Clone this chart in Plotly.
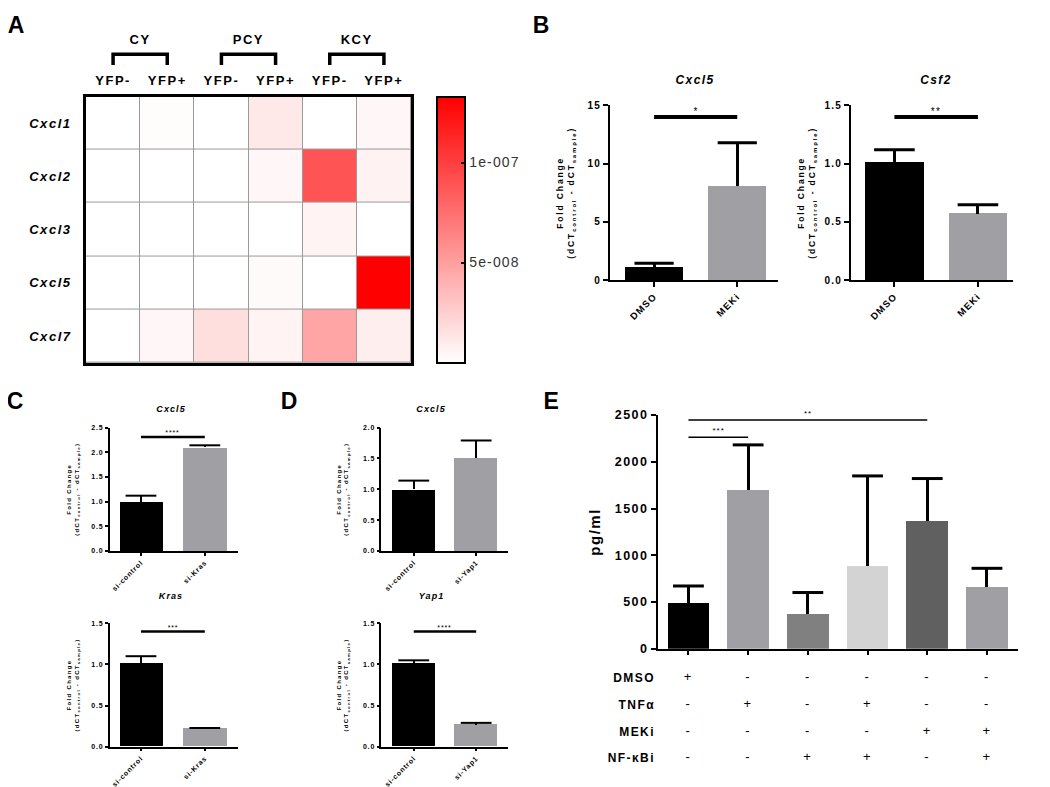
import plotly.graph_objects as go

W, H = 1050, 787
def fx(p): return p / W
def fy(p): return 1 - p / H

FONT = "Arial, 'Liberation Sans', sans-serif"
BLACK = "#000000"
GRAY = "#a0a0a4"

# ---------------- Panel A data ----------------
genes = ["Cxcl1", "Cxcl2", "Cxcl3", "Cxcl5", "Cxcl7"]
col_labels = ["YFP-", "YFP+", "YFP-", "YFP+", "YFP-", "YFP+"]
group_labels = ["CY", "PCY", "KCY"]
heat_cxcl1 = [0.0, 1.5e-9, 0.0, 1.2e-8, 0.0, 4.0e-9]
heat_cxcl2 = [0.0, 0.0, 0.0, 4.0e-9, 8.9e-8, 7.0e-9]
heat_cxcl3 = [0.0, 0.0, 0.0, 0.0, 6.0e-9, 0.0]
heat_cxcl5 = [0.0, 0.0, 0.0, 2.5e-9, 0.0, 1.33e-7]
heat_cxcl7 = [0.0, 4.0e-9, 1.7e-8, 6.5e-9, 4.7e-8, 9.0e-9]
heat_max = 1.33e-7
cbar_tickvals = [5e-8, 1e-7]
cbar_ticktext = ["5e-008", "1e-007"]

# ---------------- Panel B data ----------------
b_labels = ["DMSO", "MEKi"]
b_cxcl5_mean = [1.12, 8.05]
b_cxcl5_sem = [0.34, 3.75]
b_cxcl5_sig = 14.0
b_csf2_mean = [1.01, 0.57]
b_csf2_sem = [0.11, 0.077]
b_csf2_sig = 1.40

# ---------------- Panel C data ----------------
c_labels = ["si-control", "si-Kras"]
c_cxcl5_mean = [1.00, 2.10]
c_cxcl5_sem = [0.12, 0.04]
c_cxcl5_sig = 2.31
c_kras_mean = [1.01, 0.22]
c_kras_sem = [0.09, 0.008]
c_kras_sig = 1.40

# ---------------- Panel D data ----------------
d_labels = ["si-control", "si-Yap1"]
d_cxcl5_mean = [1.00, 1.51]
d_cxcl5_sem = [0.14, 0.28]
d_yap1_mean = [1.01, 0.27]
d_yap1_sem = [0.04, 0.02]
d_yap1_sig = 1.40

# ---------------- Panel E data ----------------
e_mean = [490, 1695, 371, 889, 1362, 665]
e_sem = [182, 486, 231, 960, 459, 196]
e_colors = ["#000000", "#a0a0a4", "#808080", "#d3d3d3", "#606060", "#a0a0a4"]
e_sig_low = 2262
e_sig_high = 2447
treat_labels = ["DMSO", "TNFα", "MEKi", "NF-κBi"]
treat_dmso = ["+", "-", "-", "-", "-", "-"]
treat_tnfa = ["-", "+", "-", "+", "-", "-"]
treat_meki = ["-", "-", "-", "-", "+", "+"]
treat_nfkbi = ["-", "-", "+", "+", "-", "+"]

fig = go.Figure()
layout = dict(
    width=W, height=H, margin=dict(l=0, r=0, t=0, b=0),
    paper_bgcolor="white", plot_bgcolor="white",
    font=dict(family=FONT, color="black"), showlegend=False,
)
shapes, annos = [], []

def bold(size, italic=False, color="black"):
    d = dict(family=FONT, size=size, color=color, weight="bold")
    if italic:
        d["style"] = "italic"
    return d

# ---------------- Panel A ----------------
CB_TOP, CB_BOT, CB_LEFT = 83, 354, 429
heat_z = [heat_cxcl1, heat_cxcl2, heat_cxcl3, heat_cxcl5, heat_cxcl7]
fig.add_trace(go.Heatmap(
    z=heat_z, x=list(range(len(col_labels))), y=list(range(len(genes))),
    colorscale=[[0, "#ffffff"], [1, "#ff0000"]], zmin=0, zmax=heat_max,
    xgap=1, ygap=1, hoverinfo="skip",
    colorbar=dict(x=fx(CB_LEFT), xanchor="left", y=fy(CB_TOP), yanchor="top",
                  len=(CB_BOT - CB_TOP) / H, lenmode="fraction", thickness=28,
                  outlinewidth=2, outlinecolor="black", xpad=0, ypad=0,
                  tickvals=cbar_tickvals, ticktext=cbar_ticktext,
                  ticks="inside", ticklen=5, tickwidth=2, tickcolor="black",
                  tickfont=dict(family=FONT, size=14, color="#333333")),
    xaxis="x", yaxis="y"))
# matching tick marks on the left edge of the colour bar
for v in cbar_tickvals:
    yv = fy(CB_BOT) + v / heat_max * (CB_BOT - CB_TOP) / H
    shapes.append(dict(type="line", xref="paper", yref="paper", x0=fx(CB_LEFT), x1=fx(CB_LEFT + 5),
                       y0=yv, y1=yv, line=dict(color="black", width=2)))
layout["xaxis"] = dict(domain=[fx(78), fx(403)], anchor="y", side="top",
                       range=[-0.5, 5.5], tickvals=list(range(6)), ticktext=col_labels,
                       ticks="", showline=True, mirror=True, linewidth=2.5, linecolor="black",
                       showgrid=False, zeroline=False, tickfont=bold(13), ticklabelstandoff=4)
layout["yaxis"] = dict(domain=[fy(354), fy(83)], anchor="x",
                       range=[4.5, -0.5], tickvals=list(range(5)), ticktext=genes,
                       ticks="", showline=True, mirror=True, linewidth=2.5, linecolor="black",
                       showgrid=False, zeroline=False, tickfont=bold(13, italic=True),
                       ticklabelstandoff=9)
shapes.append(dict(type="rect", xref="x domain", yref="y domain", x0=0, x1=1, y0=0, y1=1,
                   fillcolor="#9a9a9a", line=dict(width=0), layer="below"))
for gi, g in enumerate(group_labels):
    x0, x1 = 2 * gi, 2 * gi + 1
    shapes.append(dict(type="path", xref="x", yref="paper",
                       path=f"M {x0},{fy(51)} L {x0},{fy(40)} L {x1},{fy(40)} L {x1},{fy(51)}",
                       line=dict(color="black", width=3.5)))
    annos.append(dict(text=g, x=(x0 + x1) / 2, xref="x", y=fy(25), yref="paper",
                      xanchor="center", yanchor="middle", showarrow=False, font=bold(13)))

# ---------------- helpers for bar panels ----------------
def bar_panel(n, xd, yd, xrange, labels, yrange, dtick, tickfmt, tfs, lw, tl,
              ytitle_size, standoff, xtfs, show_xlabels=True):
    layout[f"xaxis{n}"] = dict(
        domain=[fx(xd[0]), fx(xd[1])], anchor=f"y{n}", range=xrange,
        tickvals=list(range(len(labels))), ticktext=labels,
        showticklabels=show_xlabels,
        tickangle=-45, showline=True, linecolor="black", linewidth=lw,
        ticks="outside", ticklen=tl, tickwidth=lw, tickcolor="black",
        showgrid=False, zeroline=False, tickfont=bold(xtfs))
    ytitle = None
    if ytitle_size:
        ytitle = dict(text="Fold Change<br>(dCT<sub>control</sub> - dCT<sub>sample</sub>)",
                      font=bold(ytitle_size), standoff=standoff)
    layout[f"yaxis{n}"] = dict(
        domain=[fy(yd[1]), fy(yd[0])], anchor=f"x{n}", range=yrange, dtick=dtick, tick0=0,
        tickformat=tickfmt, showline=True, linecolor="black", linewidth=lw,
        ticks="outside", ticklen=tl, tickwidth=lw, tickcolor="black",
        showgrid=False, zeroline=False, tickfont=bold(tfs), title=ytitle)

def bars(n, means, sems, colors, width, ethick, capw):
    idx = list(range(len(means)))
    fig.add_trace(go.Bar(
        x=idx, y=means, width=width,
        marker=dict(color=colors, line=dict(width=0)),
        error_y=dict(type="data", array=sems, arrayminus=[0] * len(sems), symmetric=False,
                     color="black", thickness=ethick, width=0),
        xaxis=f"x{n}", yaxis=f"y{n}", hoverinfo="skip"))
    tops = [m + s for m, s in zip(means, sems)]
    fig.add_trace(go.Scatter(
        x=idx, y=tops, mode="markers", cliponaxis=False,
        marker=dict(symbol="line-ew", size=capw, color="black",
                    line=dict(width=ethick, color="black")),
        xaxis=f"x{n}", yaxis=f"y{n}", hoverinfo="skip"))

def sig(n, i0, i1, val, stars, lw, fs, shift):
    fig.add_trace(go.Scatter(x=[i0, i1], y=[val, val], mode="lines",
                             line=dict(color="black", width=lw),
                             xaxis=f"x{n}", yaxis=f"y{n}", hoverinfo="skip"))
    annos.append(dict(text=stars, x=(i0 + i1) / 2, y=val, xref=f"x{n}", yref=f"y{n}",
                      xanchor="center", yanchor="bottom", yshift=shift, showarrow=False,
                      font=dict(family=FONT, size=fs, color="black")))

def title(text, xp, yp, size):
    annos.append(dict(text=text, x=fx(xp), y=fy(yp), xref="paper", yref="paper",
                      xanchor="center", yanchor="middle",
                      showarrow=False, font=bold(size, italic=True)))

# ---------------- Panel B ----------------
bar_panel(2, (602, 770), (92, 270), [-0.53, 1.49], b_labels, [0, 15], 5, "d", 10, 2, 5, 8.5, 14, 9.5)
bars(2, b_cxcl5_mean, b_cxcl5_sem, [BLACK, GRAY], 0.7, 3, 28)
sig(2, 0, 1, b_cxcl5_sig, "*", 4, 10, -2)
title("Cxcl5", 687, 66, 12)

bar_panel(3, (843, 1005), (92, 270), [-0.52, 1.42], b_labels, [0, 1.5], 0.5, ".1f", 10, 2, 5, 8.5, 11, 9.5)
bars(3, b_csf2_mean, b_csf2_sem, [BLACK, GRAY], 0.7, 3, 29)
sig(3, 0, 1, b_csf2_sig, "**", 4, 10, -2)
title("Csf2", 928, 66, 12)

# ---------------- Panel C ----------------
bar_panel(4, (101.7, 230), (420, 545.7), [-0.49, 1.52], c_labels, [0, 2.5], 0.5, ".1f", 7, 1.5, 3, 6, 14, 7)
bars(4, c_cxcl5_mean, c_cxcl5_sem, [BLACK, GRAY], 0.68, 2, 22)
sig(4, 0, 1, c_cxcl5_sig, "****", 2.5, 7, -1)
title("Cxcl5", 163, 401, 9)

bar_panel(5, (101.7, 230), (619.3, 745), [-0.49, 1.52], c_labels, [0, 1.5], 0.5, ".1f", 7, 1.5, 3, 6, 14, 7)
bars(5, c_kras_mean, c_kras_sem, [BLACK, GRAY], 0.68, 2, 22)
sig(5, 0, 1, c_kras_sig, "***", 2.5, 7, -1)
title("Kras", 163, 592, 9)

# ---------------- Panel D ----------------
bar_panel(6, (373.3, 500), (420, 545.7), [-0.52, 1.51], d_labels, [0, 2.0], 0.5, ".1f", 7, 1.5, 3, 6, 16, 7)
bars(6, d_cxcl5_mean, d_cxcl5_sem, [BLACK, GRAY], 0.69, 2, 22)
title("Cxcl5", 423, 401, 9)

bar_panel(7, (373.3, 500), (619.3, 745), [-0.52, 1.51], d_labels, [0, 1.5], 0.5, ".1f", 7, 1.5, 3, 6, 16, 7)
bars(7, d_yap1_mean, d_yap1_sem, [BLACK, GRAY], 0.69, 2, 22)
sig(7, 0, 1, d_yap1_sig, "****", 2.5, 7, -1)
title("Yap1", 423, 592, 9)

# ---------------- Panel E ----------------
bar_panel(8, (650, 1010), (407.3, 645.3), [-0.51, 5.52], [str(i) for i in range(6)],
          [0, 2500], 500, "d", 12.5, 2, 5, None, 0, 10, show_xlabels=False)
layout["yaxis8"]["title"] = dict(text="pg/ml", font=bold(15), standoff=16)
layout["xaxis8"]["ticklen"] = 4
bars(8, e_mean, e_sem, e_colors, 0.7, 3, 22)
sig(8, 0, 1, e_sig_low, "***", 1.6, 8, 0)
sig(8, 0, 4, e_sig_high, "**", 1.6, 8, 0)

# treatment table: text marks on a second y axis sharing the E x axis
treat_rows = [treat_dmso, treat_tnfa, treat_meki, treat_nfkbi]
tx, ty, tt = [], [], []
for r, vals in enumerate(treat_rows):
    for i, v in enumerate(vals):
        tx.append(i); ty.append(r); tt.append(v)
fig.add_trace(go.Scatter(x=tx, y=ty, text=tt, mode="text", cliponaxis=False,
                         textfont=dict(family=FONT, size=13, color="black"),
                         xaxis="x8", yaxis="y9", hoverinfo="skip"))
layout["yaxis9"] = dict(domain=[fy(770.2), fy(661.4)], anchor="x8", range=[3.5, -0.5],
                        tickvals=list(range(len(treat_labels))), ticktext=treat_labels,
                        ticks="", showline=False, showgrid=False, zeroline=False,
                        tickfont=bold(12), ticklabelstandoff=2)

# ---------------- Panel letters ----------------
for letter, (lx, ly) in zip("ABCDE", [(9, 10), (534, 10), (8, 393), (282, 393), (544, 393)]):
    annos.append(dict(text=letter, x=fx(lx), y=fy(ly), xref="paper", yref="paper",
                      xanchor="center", yanchor="middle",
                      showarrow=False, font=bold(23)))

layout["shapes"] = shapes
layout["annotations"] = annos
layout["bargap"] = 0
fig.update_layout(**layout)

# Prism-style wide letter tracking for the text
spacing_js = """
var gd = document.getElementById('{plot_id}');
function track() {
  gd.querySelectorAll('text').forEach(function (t) { t.style.letterSpacing = '0.12em'; });
  gd.querySelectorAll('[class*="title"] text').forEach(function (t) { t.style.letterSpacing = '0.22em'; });
  gd.querySelectorAll('.g-y8title text').forEach(function (t) { t.style.letterSpacing = '0.1em'; });
  gd.querySelectorAll('.colorbar text').forEach(function (t) { t.style.letterSpacing = '0.08em'; });
}
track();
gd.on('plotly_afterplot', track);
"""
fig.write_html("out.html", post_script=spacing_js)
